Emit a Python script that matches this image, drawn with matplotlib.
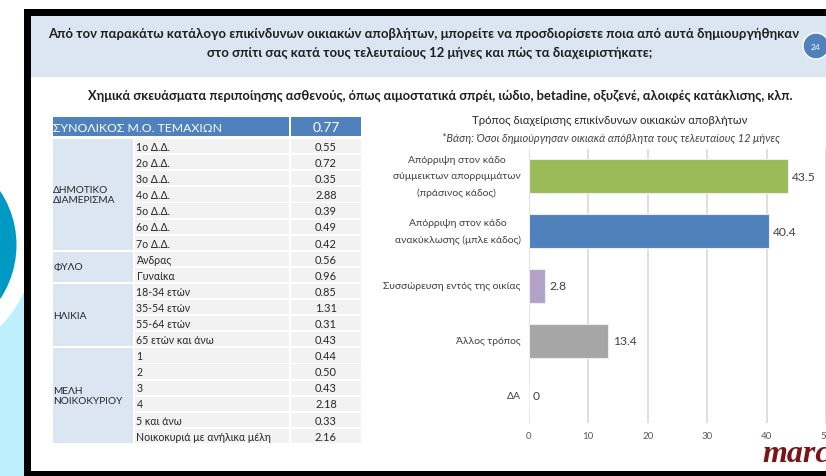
import matplotlib
matplotlib.use('Agg')
import matplotlib.pyplot as plt
from matplotlib.patches import Rectangle, Circle
from matplotlib.transforms import blended_transform_factory, offset_copy
import numpy as np

plt.rcParams['font.family'] = ['Lato', 'DejaVu Sans']

# ---------------- data ----------------
question_lines = [
    "Από τον παρακάτω κατάλογο επικίνδυνων οικιακών αποβλήτων, μπορείτε να προσδιορίσετε ποια από αυτά δημιουργήθηκαν",
    "στο σπίτι σας κατά τους τελευταίους 12 μήνες και πώς τα διαχειριστήκατε;",
]
item_title = ("Χημικά σκευάσματα περιποίησης ασθενούς, όπως αιμοστατικά σπρέι, ιώδιο, "
              "betadine, οξυζενέ, αλοιφές κατάκλισης, κλπ.")
page_number = "24"

table_header = "ΣΥΝΟΛΙΚΟΣ Μ.Ο. ΤΕΜΑΧΙΩΝ"
table_total = "0.77"
groups = ["ΔΗΜΟΤΙΚΟ\nΔΙΑΜΕΡΙΣΜΑ", "ΦΥΛΟ", "ΗΛΙΚΙΑ", "ΜΕΛΗ\nΝΟΙΚΟΚΥΡΙΟΥ"]
group_sizes = [7, 2, 4, 6]
row_labels = ["1ο Δ.Δ.", "2ο Δ.Δ.", "3ο Δ.Δ.", "4ο Δ.Δ.", "5ο Δ.Δ.", "6ο Δ.Δ.", "7ο Δ.Δ.",
              "Άνδρας", "Γυναίκα",
              "18-34 ετών", "35-54 ετών", "55-64 ετών", "65 ετών και άνω",
              "1", "2", "3", "4", "5 και άνω", "Νοικοκυριά με ανήλικα μέλη"]
row_values = ["0.55", "0.72", "0.35", "2.88", "0.39", "0.49", "0.42",
              "0.56", "0.96",
              "0.85", "1.31", "0.31", "0.43",
              "0.44", "0.50", "0.43", "2.18", "0.33", "2.16"]

chart_title = "Τρόπος διαχείρισης επικίνδυνων οικιακών αποβλήτων"
chart_base = "*Βάση: Όσοι δημιούργησαν οικιακά απόβλητα τους τελευταίους 12 μήνες"
categories = ["Απόρριψη στον κάδο\nσύμμεικτων απορριμμάτων\n(πράσινος κάδος)",
              "Απόρριψη στον κάδο\nανακύκλωσης (μπλε κάδος)",
              "Συσσώρευση εντός της οικίας",
              "Άλλος τρόπος",
              "ΔΑ"]
percentages = [43.5, 40.4, 2.8, 13.4, 0]
bar_colors = ["#9BBB59", "#4F81BD", "#B3A2C7", "#A6A6A6", "#A6A6A6"]
x_ticks = [0, 10, 20, 30, 40, 50]
logo_text = "marc"

# ---------------- figure ----------------
W, H = 826, 477
fig = plt.figure(figsize=(W / 100, H / 100), dpi=100)
bg = fig.add_axes([0, 0, 1, 1])
bg.set_xlim(0, W)
bg.set_ylim(H, 0)
bg.axis('off')


def rect(x0, y0, x1, y1, color, z=1):
    bg.add_patch(Rectangle((x0, y0), x1 - x0, y1 - y0, facecolor=color,
                           edgecolor='none', zorder=z))


renderer = fig.canvas.get_renderer()


def fit(t, target):
    w = t.get_window_extent(renderer).width
    t.set_fontsize(t.get_fontsize() * target / w)


# left decoration
rect(0, 200, 24, H, "#BDEFFC", 1)
bg.add_patch(Circle((-81, 246), 115, facecolor="white", edgecolor='none', zorder=2))
bg.add_patch(Circle((-81, 246), 97.5, facecolor="#0099C4", edgecolor='none', zorder=3))

# slide frame
rect(24, 10, W + 5, H + 5, "black", 4)
rect(31, 17, W + 5, 472, "white", 5)
rect(31, 17, W + 5, 78, "#DCE6F2", 6)

# question header
t1 = bg.text(424, 34, question_lines[0], ha='center', va='center', fontsize=10,
             fontweight='bold', color='#1F1F1F', zorder=7)
fit(t1, 752)
t2 = bg.text(430, 53, question_lines[1], ha='center', va='center',
             fontsize=t1.get_fontsize(), fontweight='bold', color='#1F1F1F', zorder=7)
bg.add_patch(Circle((816, 47), 13, facecolor="#4F81BD", edgecolor='white', lw=1, zorder=7))
bg.text(816, 47, page_number, ha='center', va='center', fontsize=6, color='white', zorder=8)

t3 = bg.text(440, 96, item_title, ha='center', va='center', fontsize=10,
             fontweight='bold', color='#1F1F1F', zorder=7)
fit(t3, 706)

# ---------------- table ----------------
cg0, cg1 = 52.7, 133.3
cl0, cl1 = 134.5, 288.5
cv0, cv1 = 290.7, 361.0
rect(cg0, 118.3, cl1, 137.3, "#4F81BD", 7)
rect(cv0, 118.3, cv1, 137.3, "#4F81BD", 7)
th = bg.text(cg0 + 0.5, 128, table_header, ha='left', va='center', fontsize=10,
             color='white', zorder=8)
fit(th, 167)
bg.text((cv0 + cv1) / 2, 128, table_total, ha='center', va='center', fontsize=10,
        color='white', zorder=8)

pitch, rh, top0 = 16.1, 14.2, 140.0
for i, (lab, val) in enumerate(zip(row_labels, row_values)):
    y0 = top0 + pitch * i
    rect(cl0, y0, cl1, y0 + rh, "#F2F2F2", 7)
    rect(cv0, y0, cv1, y0 + rh, "#F2F2F2", 7)
    bg.text(cl0 + 2, y0 + rh / 2 + 0.3, lab, ha='left', va='center', fontsize=7.6,
            color='#262626', zorder=8)
    bg.text((cv0 + cv1) / 2, y0 + rh / 2 + 0.3, val, ha='center', va='center', fontsize=7.9,
            color='#262626', zorder=8)

start = 0
for g, n in zip(groups, group_sizes):
    y0 = top0 + pitch * start
    y1 = top0 + pitch * (start + n - 1) + rh
    rect(cg0, y0, cg1, y1, "#DCE6F2", 7)
    bg.text(cg0 + 0.5, (y0 + y1) / 2, g, ha='left', va='center', fontsize=7.3,
            color='#262626', linespacing=1.05, zorder=8)
    start += n

# ---------------- chart ----------------
t4 = bg.text(610, 121, chart_title, ha='center', va='center', fontsize=9,
             color='#262626', zorder=8)
fit(t4, 276)
t5 = bg.text(611, 139, chart_base, ha='center', va='center', fontsize=7,
             style='italic', color='#404040', zorder=8)
fit(t5, 338)

x_left, x_right = 528.7, 826.2
y_top, y_bot = 150, 424
ax = fig.add_axes([x_left / W, 1 - y_bot / H, (x_right - x_left) / W, (y_bot - y_top) / H])
ax.patch.set_alpha(0)
ypos = np.arange(len(categories))
ax.barh(ypos, percentages, height=0.62, color=bar_colors, edgecolor='#EDEDED',
        linewidth=0.8, zorder=3)
ax.set_xlim(0, 50)
ax.set_ylim(len(categories) - 0.5, -0.5)
ax.set_xticks(x_ticks)
ax.set_yticks(ypos)
ax.set_yticklabels([])
ax.grid(axis='x', color='#D9D9D9', lw=1.2, zorder=0)
ax.grid(axis='y', visible=False)
for s in ax.spines.values():
    s.set_visible(False)
ax.tick_params(axis='x', length=0, pad=6, labelsize=7, labelcolor='#595959')
ax.tick_params(axis='y', length=0)

lab_tr = offset_copy(blended_transform_factory(ax.transAxes, ax.transData),
                     fig=fig, x=-8, y=0, units='dots')
for i, c in enumerate(categories):
    ax.text(0, i, c, transform=lab_tr, ha='right', va='center', ma='center',
            fontsize=7.5, color='#404040', linespacing=2.0, clip_on=False)

for i, v in enumerate(percentages):
    ax.text(v + 0.7, i, f"{v:g}", ha='left', va='center', fontsize=8.7,
            color='#404040', zorder=4)

# logo
fig.text(762 / W, 1 - 462 / H, logo_text, ha='left', va='baseline', fontsize=23,
         family='Liberation Serif', style='italic', fontweight='bold', color='#7B1416',
         zorder=10)

fig.savefig("out.png", dpi=100)
